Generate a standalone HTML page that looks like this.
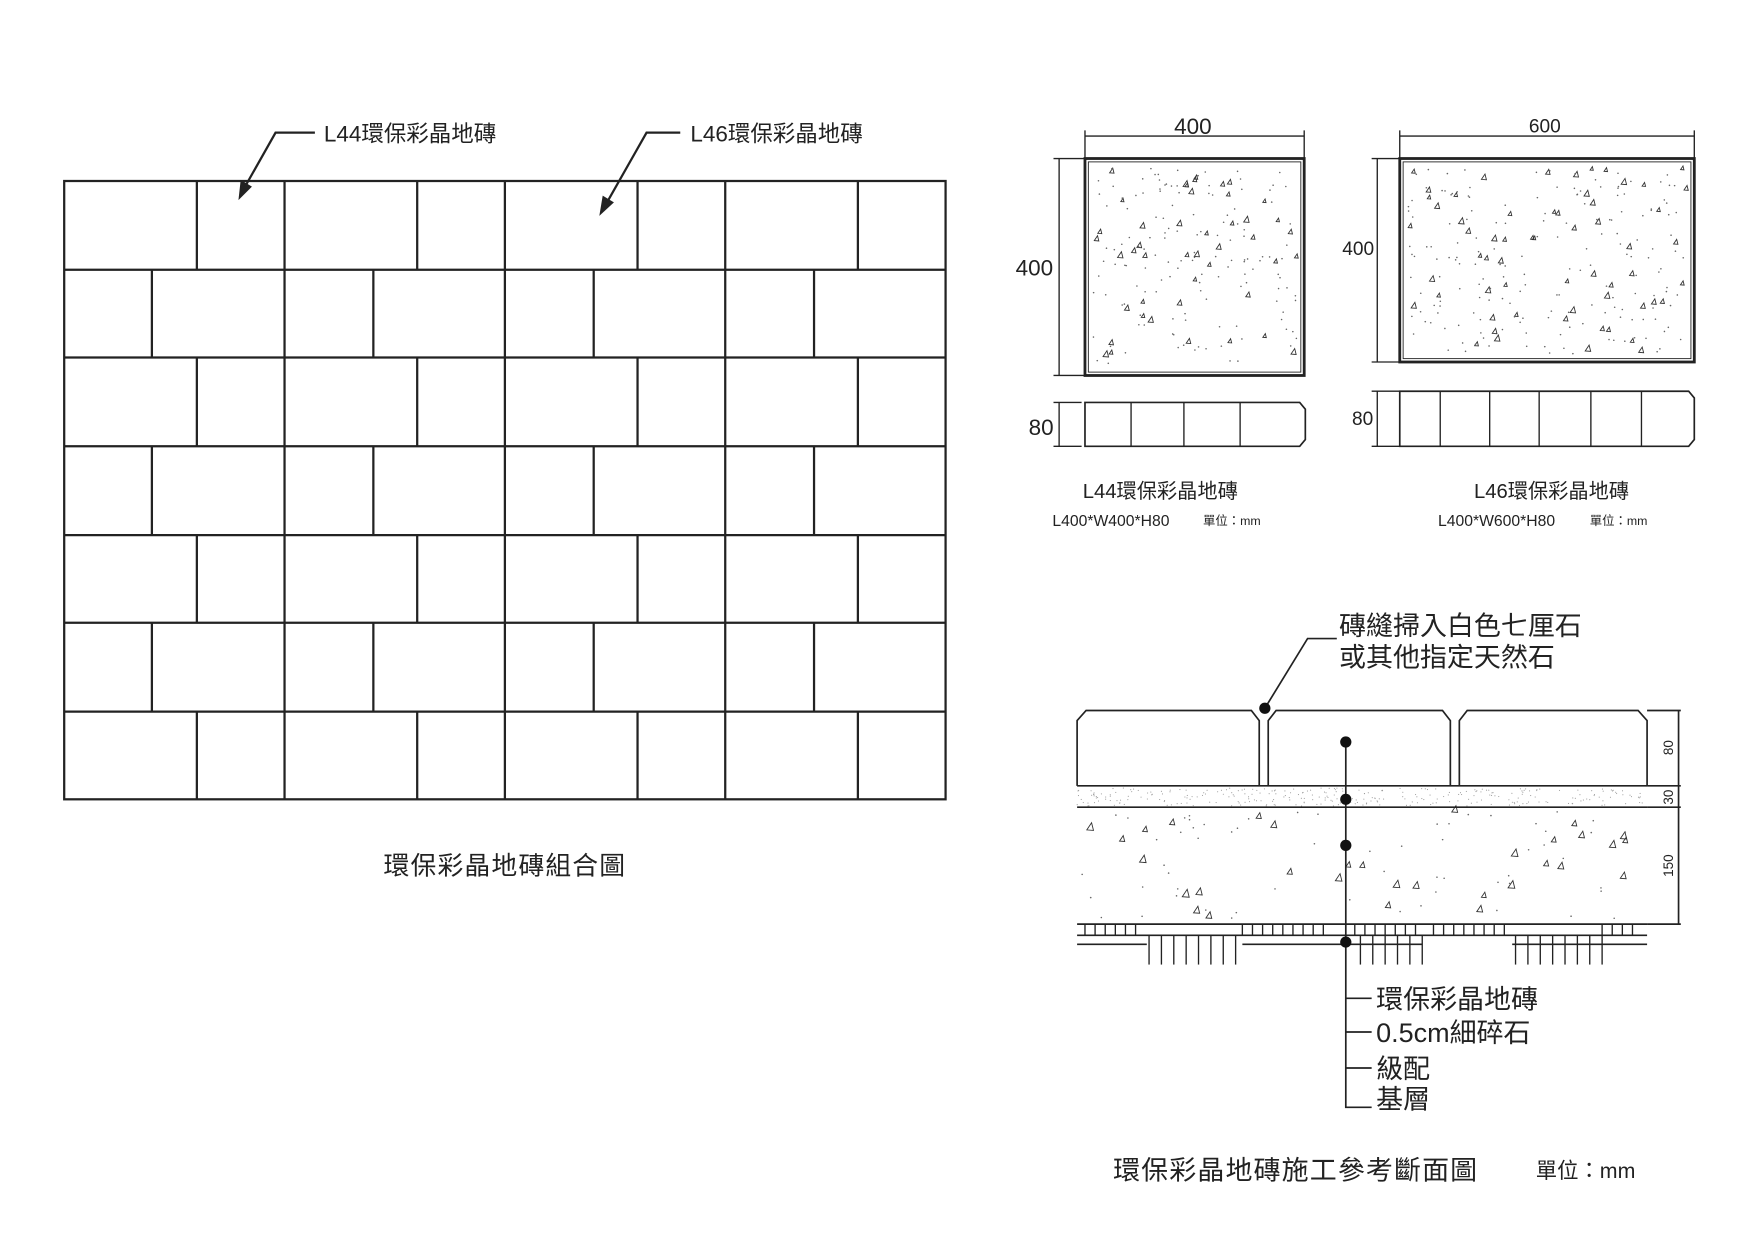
<!DOCTYPE html>
<html><head><meta charset="utf-8"><style>
html,body{margin:0;padding:0;background:#fff;}
svg{display:block;}
text{font-family:"Liberation Sans","Noto Sans CJK TC",sans-serif;fill:#222;}
</style></head><body>
<svg id="s" width="1754" height="1240" viewBox="0 0 1560 1103" xmlns="http://www.w3.org/2000/svg">
<g stroke="#222" stroke-width="2" fill="none">
<rect x="57" y="161" width="784" height="550"/>
<path d="M57 240H841M57 318H841M57 397H841M57 476H841M57 554H841M57 633H841"/>
<g id="ga"></g>
</g>
<g stroke="#222" stroke-width="2" fill="none">
<path d="M280 118H245L219 164"/><path d="M605 118H575L541 178"/>
</g>
<path d="M212 178L214 160L224 166Z" fill="#222"/>
<path d="M533 192L536 174L546 180Z" fill="#222"/>
<text x="288" y="126" font-size="20">L44環保彩晶地磚</text>
<text x="614" y="126" font-size="20">L46環保彩晶地磚</text>
<text x="449" y="778" font-size="23" text-anchor="middle" letter-spacing="1">環保彩晶地磚組合圖</text>

<g stroke="#222" stroke-width="1.2" fill="none">
<path d="M965 121H1160M965 116V141M1160 116V141"/>
<path d="M942 141V334M937 141H965M937 334H965"/>
<rect x="965" y="141" width="195" height="193" stroke-width="2.5"/>
<rect x="968" y="144" width="189" height="187" stroke-width="0.8"/>
<path d="M942 358V397M937 358H962M937 397H962"/>
<path d="M965 358H1156L1161 364V391L1156 397H965Z" stroke-width="1.5"/>
<path d="M1006 358V397M1053 358V397M1103 358V397"/>
<path d="M1225 141V322M1220 141H1245M1220 322H1245M1245 121H1507M1245 116V141M1507 116V141"/>
<rect x="1245" y="141" width="262" height="181" stroke-width="2.5"/>
<rect x="1248" y="144" width="256" height="175" stroke-width="0.8"/>
<path d="M1225 348V397M1220 348H1245M1220 397H1245"/>
<path d="M1245 348H1502L1507 354V391L1502 397H1245Z" stroke-width="1.5"/>
<path d="M1281 348V397M1325 348V397M1369 348V397M1415 348V397M1460 348V397"/>
</g>
<g id="sp" fill="none" stroke="#333" stroke-width="0.8"></g>
<text x="1061" y="119" font-size="20" text-anchor="middle">400</text>
<text x="920" y="245" font-size="20" text-anchor="middle">400</text>
<text x="926" y="387" font-size="20" text-anchor="middle">80</text>
<text x="1374" y="118" font-size="17" text-anchor="middle">600</text>
<text x="1208" y="227" font-size="17" text-anchor="middle">400</text>
<text x="1212" y="378" font-size="17" text-anchor="middle">80</text>
<text x="1032" y="443" font-size="18" text-anchor="middle">L44環保彩晶地磚</text>
<text x="936" y="468" font-size="14">L400*W400*H80</text><text x="1070" y="467" font-size="11">單位：mm</text>
<text x="1380" y="443" font-size="18" text-anchor="middle">L46環保彩晶地磚</text>
<text x="1279" y="468" font-size="14">L400*W600*H80</text><text x="1414" y="467" font-size="11">單位：mm</text>

<g stroke="#222" stroke-width="1.5" fill="none">
<path d="M958 699V641L966 632H1113L1120 641V699"/>
<path d="M1128 699V641L1135 632H1283L1290 641V699"/>
<path d="M1298 699V641L1305 632H1457L1465 641V699"/>
<path d="M958 699H1465M958 718H1465M958 822H1465M958 832H1465M958 840H1020M1105 840H1265M1345 840H1465"/>
<path d="M1465 632H1495M1465 699H1495M1465 718H1495M1465 822H1495M1493 632V822"/>
<path d="M1125 630L1163 568H1189"/>
<path d="M1197 660V985H1220M1197 888H1220M1197 918H1220M1197 950H1220"/>
</g>
<g id="hat" stroke="#222" stroke-width="1.2"></g>
<g fill="#111"><circle cx="1125" cy="630" r="5"/><circle cx="1197" cy="660" r="5"/><circle cx="1197" cy="711" r="5"/><circle cx="1197" cy="752" r="5"/><circle cx="1197" cy="838" r="5"/></g>
<text font-size="12" transform="translate(1488 665) rotate(-90)" text-anchor="middle">80</text>
<text font-size="12" transform="translate(1488 709) rotate(-90)" text-anchor="middle">30</text>
<text font-size="12" transform="translate(1488 770) rotate(-90)" text-anchor="middle">150</text>
<text x="1191" y="565" font-size="24">磚縫掃入白色七厘石</text>
<text x="1191" y="593" font-size="24">或其他指定天然石</text>
<text x="1224" y="897" font-size="24">環保彩晶地磚</text>
<text x="1224" y="927" font-size="24">0.5cm細碎石</text>
<text x="1224" y="959" font-size="24">級配</text>
<text x="1224" y="986" font-size="24">基層</text>
<text x="990" y="1049" font-size="24" letter-spacing="1">環保彩晶地磚施工參考斷面圖</text>
<text x="1366" y="1048" font-size="19">單位：mm</text>
</svg>
<script>
var NS="http://www.w3.org/2000/svg";
function el(p,t,a){var e=document.createElementNS(NS,t);for(var k in a)e.setAttribute(k,a[k]);p.appendChild(e);return e;}
var ga=document.getElementById('ga');
var A=[175,253,371,449,567,645,763],B=[135,253,332,449,528,645,724],ys=[161,240,318,397,476,554,633,711];
for(var r=0;r<7;r++){var xs=r%2?B:A;xs.forEach(function(x){el(ga,'line',{x1:x,x2:x,y1:ys[r],y2:ys[r+1]});});}
var seed=7;function rnd(){seed=(seed*9301+49297)%233280;return seed/233280;}
var sp=document.getElementById('sp');
function fill(x0,y0,w,h,nt,nd,sz){for(var i=0;i<nt;i++){var x=x0+rnd()*w,y=y0+rnd()*h,s=sz+rnd()*1.5;el(sp,'path',{d:'M'+x+' '+y+'l'+s+' '+(-s*1.5)+'l'+(s*0.4)+' '+(s*1.6)+'Z'});}
for(var j=0;j<nd;j++){el(sp,'circle',{cx:x0+rnd()*w,cy:y0+rnd()*h,r:0.7,fill:'#666',stroke:'none'});}}
fill(972,150,182,178,45,140,2);fill(1252,150,248,166,60,180,2);fill(962,722,495,96,32,60,3);
for(var k=0;k<300;k++)el(sp,'circle',{cx:958+rnd()*507,cy:701+rnd()*16,r:0.5,fill:'#999',stroke:'none'});
var h=document.getElementById('hat');
[[965,1015],[1105,1185],[1205,1265],[1275,1340],[1425,1460]].forEach(function(g){for(var x=g[0];x<=g[1];x+=9)el(h,'line',{x1:x,x2:x,y1:822,y2:832});});
[[1022,1100],[1210,1265],[1348,1425]].forEach(function(g){for(var x=g[0];x<=g[1];x+=11)el(h,'line',{x1:x,x2:x,y1:832,y2:858});});
</script>
</body></html>
